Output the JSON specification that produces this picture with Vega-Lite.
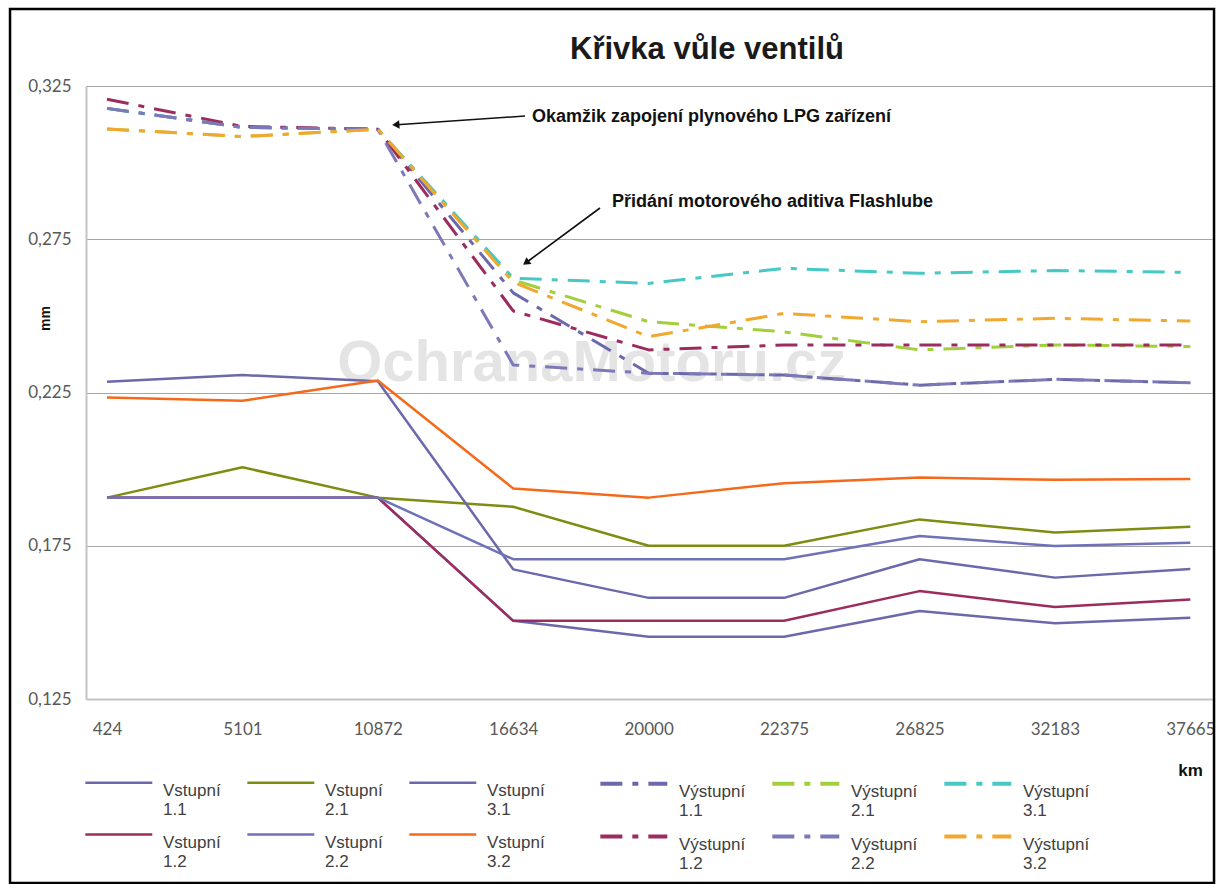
{
  "$schema": "https://vega.github.io/schema/vega-lite/v6.json",
  "autosize": {"type": "none"},
  "padding": {"left": 86, "top": 86, "right": 4, "bottom": 185},
  "width": 1126,
  "height": 613,
  "background": "#ffffff",
  "title": {"text": "Křivka vůle ventilů", "font": "Liberation Sans", "fontSize": 31, "fontWeight": "bold", "color": "#1a1a1a", "anchor": "middle", "frame": "group", "dx": 58, "baseline": "alphabetic", "offset": -82},
  "config": {
    "view": {"stroke": null},
    "font": "Liberation Sans"
  },
  "datasets": {
    "valves": [
      {"i":0,"km":"424","s":"Vstupní 1.1","mm":0.1907},{"i":1,"km":"5101","s":"Vstupní 1.1","mm":0.1907},{"i":2,"km":"10872","s":"Vstupní 1.1","mm":0.1907},{"i":3,"km":"16634","s":"Vstupní 1.1","mm":0.1505},{"i":4,"km":"20000","s":"Vstupní 1.1","mm":0.1453},{"i":5,"km":"22375","s":"Vstupní 1.1","mm":0.1453},{"i":6,"km":"26825","s":"Vstupní 1.1","mm":0.1537},{"i":7,"km":"32183","s":"Vstupní 1.1","mm":0.1497},{"i":8,"km":"37665","s":"Vstupní 1.1","mm":0.1515},
      {"i":0,"km":"424","s":"Vstupní 2.1","mm":0.1907},{"i":1,"km":"5101","s":"Vstupní 2.1","mm":0.2006},{"i":2,"km":"10872","s":"Vstupní 2.1","mm":0.1907},{"i":3,"km":"16634","s":"Vstupní 2.1","mm":0.1877},{"i":4,"km":"20000","s":"Vstupní 2.1","mm":0.1750},{"i":5,"km":"22375","s":"Vstupní 2.1","mm":0.1750},{"i":6,"km":"26825","s":"Vstupní 2.1","mm":0.1836},{"i":7,"km":"32183","s":"Vstupní 2.1","mm":0.1793},{"i":8,"km":"37665","s":"Vstupní 2.1","mm":0.1812},
      {"i":0,"km":"424","s":"Vstupní 3.1","mm":0.2285},{"i":1,"km":"5101","s":"Vstupní 3.1","mm":0.2307},{"i":2,"km":"10872","s":"Vstupní 3.1","mm":0.2287},{"i":3,"km":"16634","s":"Vstupní 3.1","mm":0.1673},{"i":4,"km":"20000","s":"Vstupní 3.1","mm":0.1580},{"i":5,"km":"22375","s":"Vstupní 3.1","mm":0.1580},{"i":6,"km":"26825","s":"Vstupní 3.1","mm":0.1706},{"i":7,"km":"32183","s":"Vstupní 3.1","mm":0.1646},{"i":8,"km":"37665","s":"Vstupní 3.1","mm":0.1674},
      {"i":0,"km":"424","s":"Vstupní 1.2","mm":0.1907},{"i":1,"km":"5101","s":"Vstupní 1.2","mm":0.1907},{"i":2,"km":"10872","s":"Vstupní 1.2","mm":0.1907},{"i":3,"km":"16634","s":"Vstupní 1.2","mm":0.1505},{"i":4,"km":"20000","s":"Vstupní 1.2","mm":0.1505},{"i":5,"km":"22375","s":"Vstupní 1.2","mm":0.1505},{"i":6,"km":"26825","s":"Vstupní 1.2","mm":0.1602},{"i":7,"km":"32183","s":"Vstupní 1.2","mm":0.1550},{"i":8,"km":"37665","s":"Vstupní 1.2","mm":0.1575},
      {"i":0,"km":"424","s":"Vstupní 2.2","mm":0.1907},{"i":1,"km":"5101","s":"Vstupní 2.2","mm":0.1907},{"i":2,"km":"10872","s":"Vstupní 2.2","mm":0.1907},{"i":3,"km":"16634","s":"Vstupní 2.2","mm":0.1706},{"i":4,"km":"20000","s":"Vstupní 2.2","mm":0.1706},{"i":5,"km":"22375","s":"Vstupní 2.2","mm":0.1706},{"i":6,"km":"26825","s":"Vstupní 2.2","mm":0.1782},{"i":7,"km":"32183","s":"Vstupní 2.2","mm":0.1749},{"i":8,"km":"37665","s":"Vstupní 2.2","mm":0.1760},
      {"i":0,"km":"424","s":"Vstupní 3.2","mm":0.2234},{"i":1,"km":"5101","s":"Vstupní 3.2","mm":0.2223},{"i":2,"km":"10872","s":"Vstupní 3.2","mm":0.2289},{"i":3,"km":"16634","s":"Vstupní 3.2","mm":0.1937},{"i":4,"km":"20000","s":"Vstupní 3.2","mm":0.1907},{"i":5,"km":"22375","s":"Vstupní 3.2","mm":0.1954},{"i":6,"km":"26825","s":"Vstupní 3.2","mm":0.1973},{"i":7,"km":"32183","s":"Vstupní 3.2","mm":0.1965},{"i":8,"km":"37665","s":"Vstupní 3.2","mm":0.1968},
      {"i":0,"km":"424","s":"Výstupní 1.1","mm":0.3177},{"i":1,"km":"5101","s":"Výstupní 1.1","mm":0.3115},{"i":2,"km":"10872","s":"Výstupní 1.1","mm":0.3109},{"i":3,"km":"16634","s":"Výstupní 1.1","mm":0.2575},{"i":4,"km":"20000","s":"Výstupní 1.1","mm":0.2313},{"i":5,"km":"22375","s":"Výstupní 1.1","mm":0.2307},{"i":6,"km":"26825","s":"Výstupní 1.1","mm":0.2274},{"i":7,"km":"32183","s":"Výstupní 1.1","mm":0.2293},{"i":8,"km":"37665","s":"Výstupní 1.1","mm":0.2282},
      {"i":0,"km":"424","s":"Výstupní 2.1","mm":0.3110},{"i":1,"km":"5101","s":"Výstupní 2.1","mm":0.3085},{"i":2,"km":"10872","s":"Výstupní 2.1","mm":0.3109},{"i":3,"km":"16634","s":"Výstupní 2.1","mm":0.2617},{"i":4,"km":"20000","s":"Výstupní 2.1","mm":0.2481},{"i":5,"km":"22375","s":"Výstupní 2.1","mm":0.2448},{"i":6,"km":"26825","s":"Výstupní 2.1","mm":0.2389},{"i":7,"km":"32183","s":"Výstupní 2.1","mm":0.2405},{"i":8,"km":"37665","s":"Výstupní 2.1","mm":0.2400},
      {"i":0,"km":"424","s":"Výstupní 3.1","mm":0.3177},{"i":1,"km":"5101","s":"Výstupní 3.1","mm":0.3115},{"i":2,"km":"10872","s":"Výstupní 3.1","mm":0.3109},{"i":3,"km":"16634","s":"Výstupní 3.1","mm":0.2623},{"i":4,"km":"20000","s":"Výstupní 3.1","mm":0.2606},{"i":5,"km":"22375","s":"Výstupní 3.1","mm":0.2655},{"i":6,"km":"26825","s":"Výstupní 3.1","mm":0.2639},{"i":7,"km":"32183","s":"Výstupní 3.1","mm":0.2648},{"i":8,"km":"37665","s":"Výstupní 3.1","mm":0.2642},
      {"i":0,"km":"424","s":"Výstupní 1.2","mm":0.3207},{"i":1,"km":"5101","s":"Výstupní 1.2","mm":0.3118},{"i":2,"km":"10872","s":"Výstupní 1.2","mm":0.3109},{"i":3,"km":"16634","s":"Výstupní 1.2","mm":0.2516},{"i":4,"km":"20000","s":"Výstupní 1.2","mm":0.2389},{"i":5,"km":"22375","s":"Výstupní 1.2","mm":0.2405},{"i":6,"km":"26825","s":"Výstupní 1.2","mm":0.2405},{"i":7,"km":"32183","s":"Výstupní 1.2","mm":0.2405},{"i":8,"km":"37665","s":"Výstupní 1.2","mm":0.2405},
      {"i":0,"km":"424","s":"Výstupní 2.2","mm":0.3177},{"i":1,"km":"5101","s":"Výstupní 2.2","mm":0.3115},{"i":2,"km":"10872","s":"Výstupní 2.2","mm":0.3109},{"i":3,"km":"16634","s":"Výstupní 2.2","mm":0.2340},{"i":4,"km":"20000","s":"Výstupní 2.2","mm":0.2313},{"i":5,"km":"22375","s":"Výstupní 2.2","mm":0.2307},{"i":6,"km":"26825","s":"Výstupní 2.2","mm":0.2274},{"i":7,"km":"32183","s":"Výstupní 2.2","mm":0.2293},{"i":8,"km":"37665","s":"Výstupní 2.2","mm":0.2282},
      {"i":0,"km":"424","s":"Výstupní 3.2","mm":0.3110},{"i":1,"km":"5101","s":"Výstupní 3.2","mm":0.3085},{"i":2,"km":"10872","s":"Výstupní 3.2","mm":0.3109},{"i":3,"km":"16634","s":"Výstupní 3.2","mm":0.2610},{"i":4,"km":"20000","s":"Výstupní 3.2","mm":0.2432},{"i":5,"km":"22375","s":"Výstupní 3.2","mm":0.2508},{"i":6,"km":"26825","s":"Výstupní 3.2","mm":0.2481},{"i":7,"km":"32183","s":"Výstupní 3.2","mm":0.2492},{"i":8,"km":"37665","s":"Výstupní 3.2","mm":0.2483}
    ],
    "notes": [
      {"id": "lpg", "label": "Okamžik zapojení plynového LPG zařízení", "i": 3.138, "mm": 0.3149, "ti": 3.087, "tmm": 0.3152, "hi": 2.1415, "hmm": 0.31237},
      {"id": "add", "label": "Přidání motorového aditiva Flashlube", "i": 3.729, "mm": 0.2872, "ti": 3.6405, "tmm": 0.2852, "hi": 3.1015, "hmm": 0.26758}
    ],
    "mark": [
      {"label": "OchranaMotoru.cz", "i": 3.58, "mm": 0.2343}
    ]
  },
  "data": {"name": "valves"},
  "layer": [
    {
      "data": {"values": [{}]},
      "mark": {"type": "rect", "fill": null, "stroke": "#000000", "strokeWidth": 2.5, "clip": false},
      "encoding": {
        "x": {"datum": -0.716, "type": "quantitative", "scale": {"domain": [-0.155, 8.16], "nice": false, "zero": false}},
        "x2": {"datum": 8.175},
        "y": {"datum": 0.3501, "type": "quantitative", "scale": {"domain": [0.125, 0.325], "nice": false, "zero": false}},
        "y2": {"datum": 0.065}
      }
    },
    {
      "data": {"name": "mark"},
      "mark": {"type": "text", "font": "Liberation Sans", "fontSize": 58, "fontWeight": "bold", "color": "#e4e4e4", "align": "center", "baseline": "middle"},
      "encoding": {
        "x": {"field": "i", "type": "quantitative"},
        "y": {"field": "mm", "type": "quantitative"},
        "text": {"field": "label"}
      }
    },
    {
      "transform": [{"filter": "indexof(datum.s, 'Vstupní') == 0"}],
      "mark": {"type": "line", "strokeCap": "butt", "strokeJoin": "round"},
      "encoding": {
        "x": {"field": "i", "type": "quantitative", "scale": {"domain": [-0.155, 8.16], "nice": false, "zero": false},
          "axis": {"values": [0,1,2,3,4,5,6,7,8], "labelExpr": "['424','5101','10872','16634','20000','22375','26825','32183','37665'][datum.value]", "title": "km", "grid": false, "ticks": false, "domainColor": "#c4c4c4", "domainWidth": 2, "labelPadding": 22, "labelFont": "Lato", "labelFontSize": 17, "labelColor": "#595959", "labelFlush": false, "labelOverlap": false, "titleX": 1104, "titleY": 71, "titleAlign": "center", "titleBaseline": "middle", "titleFont": "Liberation Sans", "titleFontSize": 17, "titleFontWeight": "bold", "titleColor": "#111111"}},
        "y": {"field": "mm", "type": "quantitative", "scale": {"domain": [0.125, 0.325], "nice": false, "zero": false},
          "axis": {"values": [0.125, 0.175, 0.225, 0.275, 0.325], "labelExpr": "replace(format(datum.value, '.3f'), '.', ',')", "title": "mm", "grid": true, "gridColor": "#a6a6a6", "gridWidth": 1.2, "domainColor": "#c4c4c4", "domainWidth": 2, "ticks": false, "labelPadding": 15, "labelFont": "Lato", "labelFontSize": 17, "labelColor": "#595959", "titleX": -41, "titleY": 232, "titleAngle": 270, "titleAlign": "center", "titleBaseline": "middle", "titleFont": "Liberation Sans", "titleFontSize": 14, "titleFontWeight": "bold", "titleColor": "#111111"}},
        "color": {"field": "s", "type": "nominal",
          "scale": {"domain": ["Vstupní 1.1", "Vstupní 1.2", "Vstupní 2.1", "Vstupní 2.2", "Vstupní 3.1", "Vstupní 3.2"], "range": ["#6b69ab", "#9c2c5e", "#7f8c12", "#6f72b8", "#6b69ab", "#f46a1a"]},
          "legend": {"title": null, "orient": "none", "legendX": -2, "legendY": 684, "columns": 3, "padding": 0, "symbolType": "M-1,0H5", "symbolSize": 498, "symbolStrokeWidth": 4, "labelFont": "Liberation Sans", "labelFontSize": 17, "labelColor": "#404040", "labelLineHeight": 24, "labelBaseline": "top", "labelOffset": 54, "labelLimit": 200, "columnPadding": 21, "rowPadding": 4, "labelExpr": "split(datum.label, ' ')"}},
        "strokeWidth": {"field": "s", "type": "nominal",
          "scale": {"domain": ["Vstupní 1.1", "Vstupní 1.2", "Vstupní 2.1", "Vstupní 2.2", "Vstupní 3.1", "Vstupní 3.2"], "range": [2.5, 2.5, 2.5, 3.5, 2.5, 2.5]},
          "legend": null},
        "order": {"field": "i"}
      }
    },
    {
      "transform": [{"filter": "indexof(datum.s, 'Výstupní') == 0"}],
      "mark": {"type": "line", "strokeWidth": 3, "strokeCap": "butt", "strokeJoin": "round"},
      "encoding": {
        "x": {"field": "i", "type": "quantitative"},
        "y": {"field": "mm", "type": "quantitative"},
        "color": {"field": "s", "type": "nominal",
          "scale": {"domain": ["Výstupní 1.1", "Výstupní 1.2", "Výstupní 2.1", "Výstupní 2.2", "Výstupní 3.1", "Výstupní 3.2"], "range": ["#6b69ab", "#9c2c5e", "#a2cf3a", "#7c79b8", "#45c8c6", "#f2a72e"]},
          "legend": {"title": null, "orient": "none", "legendX": 512, "legendY": 684, "columns": 3, "padding": 0, "symbolType": "M-1,0H5", "symbolSize": 498, "symbolStrokeWidth": 4, "labelFont": "Liberation Sans", "labelFontSize": 17, "labelColor": "#404040", "labelLineHeight": 24, "labelBaseline": "top", "labelOffset": 54, "labelLimit": 200, "columnPadding": 18, "rowPadding": 4, "labelExpr": "split(datum.label, ' ')"}},
        "strokeDash": {"field": "s", "type": "nominal",
          "scale": {"domain": ["Výstupní 1.1", "Výstupní 1.2", "Výstupní 2.1", "Výstupní 2.2", "Výstupní 3.1", "Výstupní 3.2"], "range": [[22, 10, 6, 10], [22, 10, 6, 10], [22, 10, 6, 10], [22, 10, 6, 10], [22, 10, 6, 10], [22, 10, 6, 10]]},
          "legend": {"title": null, "orient": "none", "legendX": 512, "legendY": 684, "columns": 3, "padding": 0, "symbolType": "M-1,0H5", "symbolSize": 498, "symbolStrokeWidth": 4, "labelFont": "Liberation Sans", "labelFontSize": 17, "labelColor": "#404040", "labelLineHeight": 24, "labelBaseline": "top", "labelOffset": 54, "labelLimit": 200, "columnPadding": 18, "rowPadding": 4, "labelExpr": "split(datum.label, ' ')"}},
        "order": {"field": "i"}
      }
    },
    {
      "data": {"name": "notes"},
      "mark": {"type": "rule", "stroke": "#111111", "strokeWidth": 1.6},
      "encoding": {
        "x": {"field": "ti", "type": "quantitative"},
        "y": {"field": "tmm", "type": "quantitative"},
        "x2": {"field": "hi"},
        "y2": {"field": "hmm"}
      }
    },
    {
      "data": {"name": "notes"},
      "transform": [{"filter": "datum.id == 'lpg'"}],
      "mark": {"type": "point", "shape": "triangle", "filled": true, "color": "#111111", "size": 70, "angle": 266, "opacity": 1},
      "encoding": {
        "x": {"field": "hi", "type": "quantitative"},
        "y": {"field": "hmm", "type": "quantitative"}
      }
    },
    {
      "data": {"name": "notes"},
      "transform": [{"filter": "datum.id == 'add'"}],
      "mark": {"type": "point", "shape": "triangle", "filled": true, "color": "#111111", "size": 70, "angle": 233.5, "opacity": 1},
      "encoding": {
        "x": {"field": "hi", "type": "quantitative"},
        "y": {"field": "hmm", "type": "quantitative"}
      }
    },
    {
      "data": {"name": "notes"},
      "mark": {"type": "text", "font": "Liberation Sans", "fontSize": 18, "fontWeight": "bold", "color": "#111111", "align": "left", "baseline": "middle"},
      "encoding": {
        "x": {"field": "i", "type": "quantitative"},
        "y": {"field": "mm", "type": "quantitative"},
        "text": {"field": "label"}
      }
    }
  ],
  "resolve": {
    "scale": {"color": "independent", "strokeDash": "independent", "strokeWidth": "independent"},
    "legend": {"color": "independent", "strokeDash": "independent"}
  }
}
